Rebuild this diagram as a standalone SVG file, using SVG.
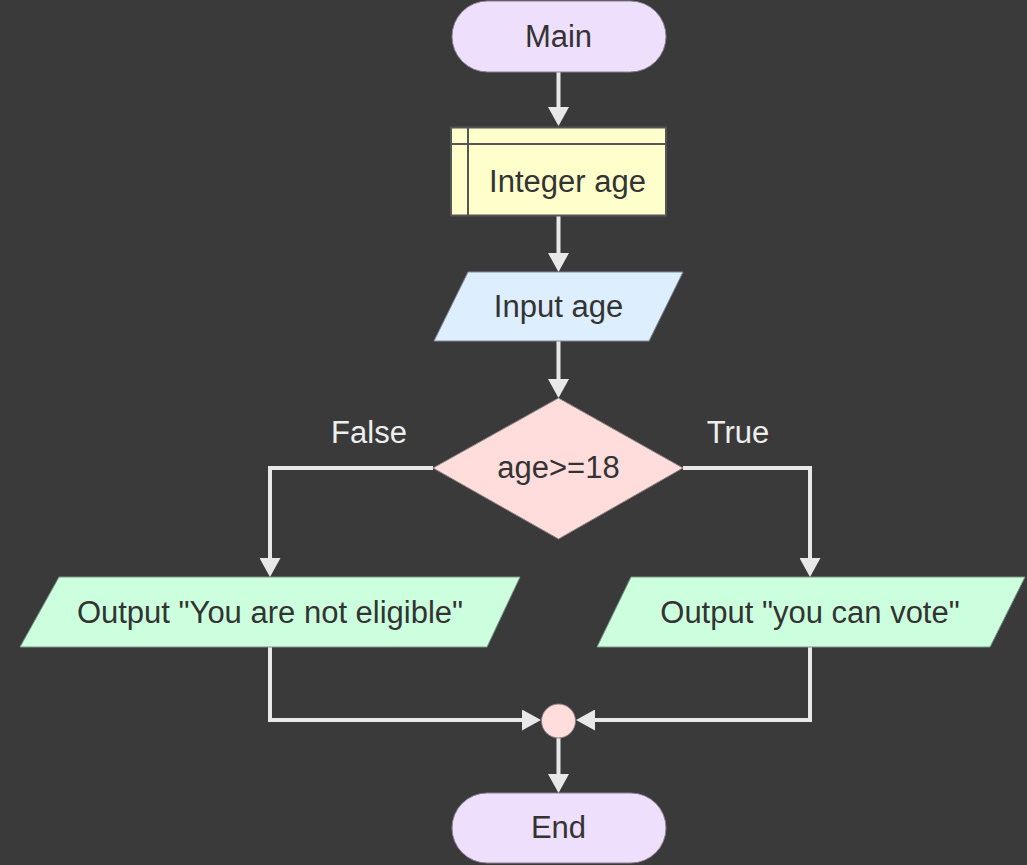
<svg xmlns="http://www.w3.org/2000/svg" width="1027" height="865" viewBox="0 0 1027 865">
<style>
.t{font-family:"Liberation Sans",Arial,sans-serif;font-size:31px;fill:#333333;text-anchor:middle}
.lbl{font-family:"Liberation Sans",Arial,sans-serif;font-size:31px;fill:#eeeeee;text-anchor:middle}
.term{fill:#eedffd;stroke:#8a8290;stroke-width:1}
.decl{fill:#ffffcc;stroke:#555555;stroke-width:2}
.inp{fill:#ddeeff;stroke:#7f8a95;stroke-width:1}
.dec{fill:#ffdddd;stroke:#8a7f7f;stroke-width:1}
.out{fill:#ccffdd;stroke:#7a9582;stroke-width:1}
.conn{fill:none;stroke:#e8e8e8;stroke-width:4}
</style>
<defs>
<marker id="arr" markerUnits="userSpaceOnUse" markerWidth="19" markerHeight="21" viewBox="0 0 19 21" refX="9" refY="10.5" orient="auto">
<path d="M0,0 L19,10.5 L0,21 z" fill="#e8e8e8"/>
</marker>
</defs>
<rect width="1027" height="865" fill="#3a3a3a"/>
<g id="connectors">
<path class="conn" d="M558.5,72 V116" marker-end="url(#arr)"/>
<path class="conn" d="M558.5,216 V262" marker-end="url(#arr)"/>
<path class="conn" d="M558.5,341 V388" marker-end="url(#arr)"/>
<path class="conn" d="M433,468 H270 V567" marker-end="url(#arr)"/>
<path class="conn" d="M683,468 H810 V567" marker-end="url(#arr)"/>
<path class="conn" d="M270,647 V720 H531" marker-end="url(#arr)"/>
<path class="conn" d="M810,647 V720 H586" marker-end="url(#arr)"/>
<path class="conn" d="M558.5,738 V783" marker-end="url(#arr)"/>
<text class="lbl" x="369" y="443">False</text>
<text class="lbl" x="738" y="443">True</text>
</g>
<g id="main">
<rect class="term" x="452" y="1" width="214" height="71" rx="35.5"/>
<text class="t" x="558.5" y="47">Main</text>
</g>
<g id="declare">
<rect class="decl" x="451" y="127.5" width="215" height="88"/>
<line x1="468" y1="127.5" x2="468" y2="215.5" stroke="#555555" stroke-width="2"/>
<line x1="451" y1="144" x2="666" y2="144" stroke="#555555" stroke-width="2"/>
<text class="t" x="567.5" y="192">Integer age</text>
</g>
<g id="input">
<polygon class="inp" points="468,272 683,272 649,341 434,341"/>
<text class="t" x="558.5" y="317">Input age</text>
</g>
<g id="decision">
<polygon class="dec" points="558.5,398 683,468 558.5,539 433,468"/>
<text class="t" x="558.5" y="478">age&gt;=18</text>
</g>
<g id="out-false">
<polygon class="out" points="59,577 520,577 487,647 20,647"/>
<text class="t" x="270" y="623">Output "You are not eligible"</text>
</g>
<g id="out-true">
<polygon class="out" points="631,577 1025,577 990,647 597,647"/>
<text class="t" x="810" y="623">Output "you can vote"</text>
</g>
<g id="join">
<circle cx="558.5" cy="721" r="17" fill="#ffdddd" stroke="#8a7f7f" stroke-width="1"/>
</g>
<g id="end">
<rect class="term" x="452" y="793" width="214" height="70" rx="35"/>
<text class="t" x="558.5" y="838">End</text>
</g>
</svg>
